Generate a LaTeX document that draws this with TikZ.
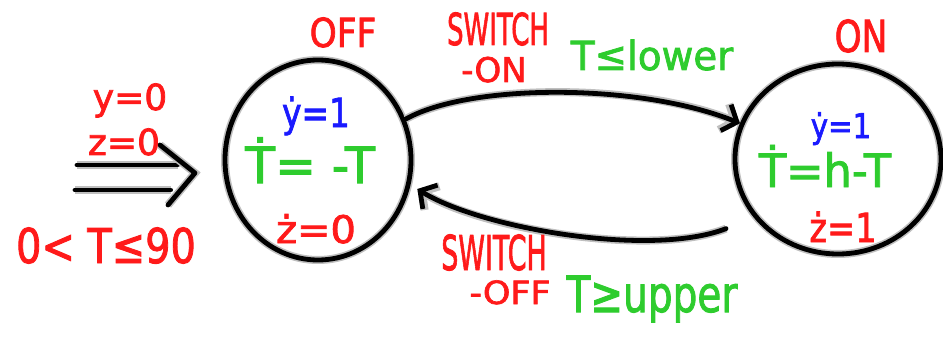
\documentclass[tikz,border=0pt]{standalone}
\usepackage{fontspec}
\setmainfont{DejaVu Sans}
\newfontfamily\handfont[FakeBold=2]{DejaVu Sans}
\usepackage{graphicx}
\usetikzlibrary{shapes.geometric,arrows.meta}
\definecolor{hred}{HTML}{FF1A1A}
\definecolor{hgreen}{HTML}{2ECC2E}
\definecolor{hblue}{HTML}{1A1AFF}
\newcommand\handtxt[3]{\scalebox{#1}[1]{\fontsize{#2}{#2}\handfont #3}}
\begin{document}
\begin{tikzpicture}[x=1pt,y=1pt,
  pen/.style={line width=4.8pt, draw=black, line cap=round, line join=round,
    preaction={draw=gray!50, line width=8pt}},
  state/.style={ellipse, pen, inner sep=0pt},
  lab/.style={anchor=base, inner sep=0pt},
  barb/.style={-{Straight Barb[length=12pt,width=28pt]}}]
\useasboundingbox (0,0) rectangle (943,338);

% states
\node[state, minimum width=186pt, minimum height=200pt] (off) at (318,178) {};
\node[state, minimum width=206pt, minimum height=190pt] (on) at (838,179) {};

% initial arrow (double line with open head)
\coordinate (initA) at (77,173);
\coordinate (initB) at (75,148);
\coordinate (headTop) at (160,193);
\coordinate (headTip) at (195,165);
\coordinate (headBot) at (168,133);
\draw[pen, shorten >=45pt] (initA) -- (initA -| off.west);
\draw[pen, shorten >=52pt] (initB) -- (initB -| off.west);
\draw[pen] (headTop) -- (headTip) -- (headBot);

% transitions
\draw[pen, barb] (off.25) .. controls (470,255) and (640,255) .. (on.160);
\draw[pen, barb, shorten <=30pt, shorten >=8pt] (on.215) .. controls (650,80) and (480,110) .. (off.-15);

% initial conditions
\node[lab, text=hred] (initY) at (130,228) {\handtxt{1.0}{36}{y=0}};
\node[lab, text=hred] (initZ) at (124,183) {\handtxt{1.0}{36}{z=0}};
\node[lab, text=hred] (initT) at (106,75) {\handtxt{0.83}{48}{0< T≤90}};

% state names
\node[lab, text=hred] (offName) at (343,291) {\handtxt{0.86}{40}{OFF}};
\node[lab, text=hred] (onName) at (861,286) {\handtxt{0.78}{44}{ON}};

% transition labels
\node[lab, text=hred] (swOn1) at (498,293) {\handtxt{0.59}{44}{SWITCH}};
\node[lab, text=hred] (swOn2) at (494,256) {\handtxt{1.0}{34}{-ON}};
\node[lab, text=hgreen] (grdOn) at (652,268) {\handtxt{0.97}{40}{T≤lower}};
\node[lab, text=hred] (swOff1) at (494,68) {\handtxt{0.56}{48}{SWITCH}};
\node[lab, text=hred] (swOff2) at (510,34) {\handtxt{1.09}{32}{-OFF}};
\node[lab, text=hgreen] (grdOff) at (652,26) {\handtxt{0.78}{50}{T≥upper}};

% OFF dynamics
\node[lab, text=hblue] (offY) at (316,211) {\handtxt{0.82}{40}{ẏ=1}};
\node[lab, text=hgreen] (offT) at (310,155) {\handtxt{0.98}{50}{Ṫ= -T}};
\node[lab, text=hred] (offZ) at (316,95) {\handtxt{1.05}{38}{ż=0}};

% ON dynamics
\node[lab, text=hblue] (onY) at (841,200) {\handtxt{0.86}{34}{ẏ=1}};
\node[lab, text=hgreen] (onT) at (825,151) {\handtxt{0.97}{46}{Ṫ=h-T}};
\node[lab, text=hred] (onZ) at (843,96) {\handtxt{0.84}{40}{ż=1}};
\end{tikzpicture}
\end{document}
